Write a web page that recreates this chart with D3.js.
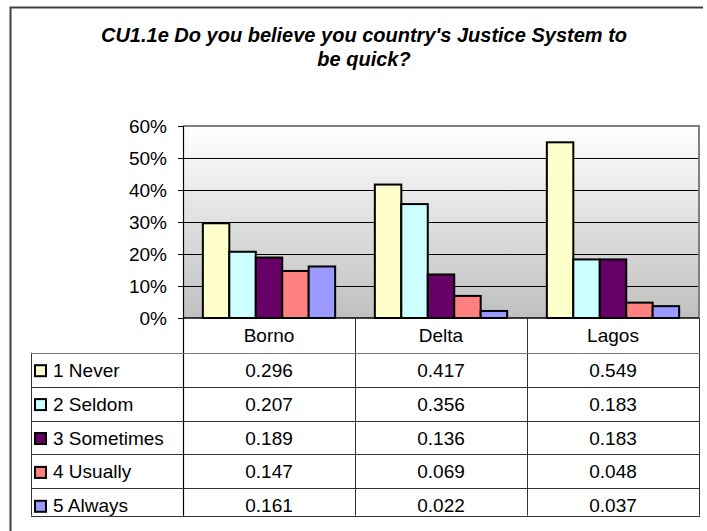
<!DOCTYPE html>
<html>
<head>
<meta charset="utf-8">
<script src="https://cdn.jsdelivr.net/npm/d3@7"></script>
<style>
  html, body { margin: 0; padding: 0; background: #fff; }
  svg { display: block; }
  text { font-family: "Liberation Sans", Arial, sans-serif; fill: #000; }
</style>
</head>
<body>
<svg id="chart" width="707" height="531"></svg>
<script>
const title = ["CU1.1e Do you believe you country's Justice System to", "be quick?"];
const categories = ["Borno", "Delta", "Lagos"];
const seriesNames = ["1 Never", "2 Seldom", "3 Sometimes", "4 Usually", "5 Always"];
const seriesColors = ["#ffffcc", "#ccffff", "#660066", "#ff8080", "#9999ff"];
const never     = [0.296, 0.417, 0.549];
const seldom    = [0.207, 0.356, 0.183];
const sometimes = [0.189, 0.136, 0.183];
const usually   = [0.147, 0.069, 0.048];
const always    = [0.161, 0.022, 0.037];
const seriesValues = [never, seldom, sometimes, usually, always];
const yTicks = [0, 0.1, 0.2, 0.3, 0.4, 0.5, 0.6];

const svg = d3.select("#chart");
const plot = {left: 183, right: 699, top: 126, bottom: 318};
const fs = 19;

// outer border (clipped on right/bottom)
svg.append("path")
  .attr("d", "M10.5,531 L10.5,7.5 L703,7.5")
  .attr("fill", "none").attr("stroke", "#404040").attr("stroke-width", 2);

// title
svg.append("g").selectAll("text").data(title).join("text")
  .attr("x", 364).attr("y", (d, i) => 42 + i * 24)
  .attr("text-anchor", "middle")
  .style("font-size", "20px").style("font-weight", "bold").style("font-style", "italic")
  .text(d => d);

// gradient background
const defs = svg.append("defs");
const grad = defs.append("linearGradient").attr("id", "bg").attr("x1", 0).attr("y1", 0).attr("x2", 0).attr("y2", 1);
grad.append("stop").attr("offset", "0%").attr("stop-color", "#ffffff");
grad.append("stop").attr("offset", "100%").attr("stop-color", "#c0c0c0");

const x0 = d3.scaleBand().domain(categories).range([plot.left, plot.right]).paddingInner(0).paddingOuter(0);
const y = d3.scaleLinear().domain([0, 0.6]).range([plot.bottom, plot.top]);
const cw = x0.bandwidth();
const gapFrac = 1.5;
const barsW = cw * 5 / (5 + gapFrac);
const x1 = d3.scaleBand().domain(seriesNames).range([0, barsW]).padding(0);
const offset = (cw - barsW) / 2;

svg.append("rect")
  .attr("x", plot.left).attr("y", plot.top)
  .attr("width", plot.right - plot.left).attr("height", plot.bottom - plot.top)
  .attr("fill", "url(#bg)");

// gridlines
svg.append("g").selectAll("line").data(yTicks.filter(t => t > 0 && t < 0.6)).join("line")
  .attr("x1", plot.left).attr("x2", plot.right)
  .attr("y1", d => Math.round(y(d)) + 0.5).attr("y2", d => Math.round(y(d)) + 0.5)
  .attr("stroke", "#000").attr("stroke-width", 1);

// plot top & right border (gray)
svg.append("path")
  .attr("d", `M${plot.left},${plot.top} L${plot.right},${plot.top} L${plot.right},${plot.bottom}`)
  .attr("fill", "none").attr("stroke", "#808080").attr("stroke-width", 2);

// bars
const groups = svg.append("g").selectAll("g").data(categories).join("g")
  .attr("transform", c => `translate(${x0(c) + offset},0)`);
groups.selectAll("rect").data((c, ci) => seriesNames.map((s, si) => ({s, si, v: seriesValues[si][ci]}))).join("rect")
  .attr("x", d => x1(d.s))
  .attr("y", d => y(d.v))
  .attr("width", x1.bandwidth())
  .attr("height", d => y(0) - y(d.v))
  .attr("fill", d => seriesColors[d.si])
  .attr("stroke", "#000").attr("stroke-width", 2);

// y axis
const yAxis = d3.axisLeft(y).tickValues(yTicks).tickFormat(d3.format(".0%")).tickSize(5).tickPadding(11);
const ag = svg.append("g").attr("transform", `translate(${plot.left},0)`).call(yAxis);
ag.select(".domain").remove();
ag.selectAll(".tick line").attr("stroke", "#000");
ag.selectAll(".tick text").style("font-size", fs + "px").style("font-family", "Liberation Sans, Arial, sans-serif").attr("fill", "#000");

// baseline
svg.append("line").attr("x1", plot.left).attr("x2", plot.right)
  .attr("y1", plot.bottom).attr("y2", plot.bottom).attr("stroke", "#000").attr("stroke-width", 1.5);

// data table
const tableLeft = 31, headerBottom = 352.7, rowH = 33.9, tableBottom = 515.7;
const tbl = svg.append("g");
const lineColor = "#333";
tbl.append("line").attr("x1", plot.left + 0.5).attr("x2", plot.left + 0.5).attr("y1", plot.top).attr("y2", tableBottom)
  .attr("stroke", "#000").attr("stroke-width", 1.2);
tbl.selectAll("line.col").data(categories.slice(1)).join("line").attr("class", "col")
  .attr("x1", c => Math.round(x0(c)) + 0.5).attr("x2", c => Math.round(x0(c)) + 0.5)
  .attr("y1", plot.bottom).attr("y2", tableBottom).attr("stroke", lineColor);
tbl.append("line").attr("x1", plot.right + 0.5).attr("x2", plot.right + 0.5).attr("y1", plot.bottom).attr("y2", tableBottom).attr("stroke", lineColor);
tbl.append("line").attr("x1", tableLeft + 0.5).attr("x2", tableLeft + 0.5).attr("y1", headerBottom).attr("y2", tableBottom).attr("stroke", lineColor);
const rowTops = seriesNames.map((s, i) => headerBottom + i * rowH);
tbl.selectAll("line.row").data(rowTops.concat([tableBottom])).join("line").attr("class", "row")
  .attr("x1", tableLeft).attr("x2", plot.right + 1)
  .attr("y1", d => Math.round(d) + 0.5).attr("y2", d => Math.round(d) + 0.5)
  .attr("stroke", (d, i) => i === 0 ? "#777" : lineColor);

tbl.selectAll("text.hdr").data(categories).join("text").attr("class", "hdr")
  .attr("x", c => x0(c) + cw / 2).attr("y", 342)
  .attr("text-anchor", "middle").style("font-size", fs + "px").text(c => c);

seriesNames.forEach((s, si) => {
  const base = rowTops[si] + 24;
  tbl.append("rect").attr("x", 35).attr("y", base - 11.5).attr("width", 11).attr("height", 11)
    .attr("fill", seriesColors[si]).attr("stroke", "#000").attr("stroke-width", 2);
  tbl.append("text").attr("x", 53).attr("y", base).style("font-size", fs + "px").text(s);
  tbl.selectAll(null).data(categories).join("text")
    .attr("x", c => x0(c) + cw / 2).attr("y", base)
    .attr("text-anchor", "middle").style("font-size", fs + "px")
    .text((c, ci) => d3.format(".3f")(seriesValues[si][ci]));
});
</script>
</body>
</html>
